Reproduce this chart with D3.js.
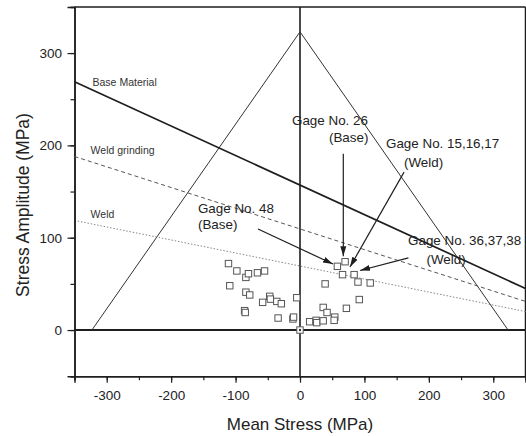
<!DOCTYPE html>
<html><head><meta charset="utf-8">
<script src="https://cdn.jsdelivr.net/npm/d3@7"></script>
<style>body{margin:0;background:#fff}</style>
</head><body>
<svg id="c" width="526" height="436"></svg>
<script>
// ---- data ----
const xMajorTicks = [-300, -200, -100, 0, 100, 200, 300];
const yMajorTicks = [0, 100, 200, 300];
const meanStress = [-111, -98, -84, -80, -66, -55, -109, -84, -78, -86, -85, -58, -47, -46, -36, -29, -5, -34, -11, -10, 15, 25, 26, 36, 54, 53, 36, 42, 72, 39, 58, 70, 66, 84, 90, 109, 92, 0];
const stressAmplitude = [72, 64, 57, 61, 62, 64, 48, 41, 38, 21, 19, 30, 36.5, 33.5, 31, 28.5, 35, 13, 12, 14, 9, 10.5, 8, 10, 14, 10.5, 24.5, 19, 23.5, 50, 69, 74, 60, 60, 52, 51, 33, 0];
const triangleX = [-323, 0, 323];
const triangleY = [0, 323, 0];
const baseMaterialX = [-350, 350];
const baseMaterialY = [269, 45];
const weldGrindingX = [-350, 350];
const weldGrindingY = [188, 31];
const weldX = [-345, 350];
const weldY = [118, 20];
const lineLabels = ["Base Material", "Weld grinding", "Weld"];
const lineLabelX = [-322, -325, -325];
const lineLabelY = [264.5, 190.5, 121.5];
const noteText = ["Gage No. 26", "(Base)", "Gage No. 15,16,17", "(Weld)", "Gage No. 48", "(Base)", "Gage No. 36,37,38", "(Weld)"];
const noteX = [-12.4, 75.6, 133.5, 191.8, -158.4, -158.4, 167.7, 226.7];
const noteY = [222.6, 203.7, 197.7, 176.6, 127.3, 108.9, 92.1, 71.5];
const noteAnchor = ["start", "middle", "start", "middle", "start", "start", "start", "middle"];
const arrowFromX = [67.2, 161.5, -65.2, 168.3];
const arrowFromY = [191, 171, 109.4, 78.2];
const arrowToX = [67.2, 77.6, 51.2, 93.2];
const arrowToY = [80, 68.3, 71.5, 64.5];

// ---- chart ----
const svg = d3.select("#c");
const FONT = "'Liberation Sans', Arial, Helvetica, sans-serif";
const x = d3.scaleLinear().domain([-350, 350]).range([74.5, 525.5]);
const y = d3.scaleLinear().domain([-50, 350]).range([376.2, 6.9]);
const ink = "#1e1e1e";

svg.append("defs").append("marker")
  .attr("id", "ah").attr("markerUnits", "userSpaceOnUse")
  .attr("markerWidth", 12).attr("markerHeight", 10)
  .attr("viewBox", "0 -5 12 10").attr("refX", 10).attr("refY", 0)
  .attr("orient", "auto")
  .append("path").attr("d", "M0,-3L10,0L0,3Z").attr("fill", ink);

// frame (top and right)
svg.append("line").attr("x1", x(-350)).attr("x2", x(350)).attr("y1", y(350)).attr("y2", y(350))
  .attr("stroke", ink).attr("stroke-width", 1.5);
svg.append("line").attr("x1", x(350)).attr("x2", x(350)).attr("y1", y(350)).attr("y2", y(-50))
  .attr("stroke", ink).attr("stroke-width", 1.5);

// axes
function styleAxis(g) {
  g.selectAll("path.domain").attr("stroke", ink).attr("stroke-width", 1.5);
  g.selectAll(".tick line").attr("stroke", ink).attr("stroke-width", 1.2);
  g.selectAll("text").attr("fill", "#222").style("font-family", FONT).style("font-size", "13.5px");
}
const xMinor = svg.append("g").attr("transform", `translate(0,${y(-50)})`)
  .call(d3.axisBottom(x).tickValues(d3.range(-350, 351, 50)).tickSize(4).tickFormat(""));
styleAxis(xMinor);
const xMajor = svg.append("g").attr("transform", `translate(0,${y(-50)})`)
  .call(d3.axisBottom(x).tickValues(xMajorTicks).tickSize(6.5).tickPadding(7.5).tickFormat(d => String(d)));
styleAxis(xMajor);
const yMinor = svg.append("g").attr("transform", `translate(${x(-350)},0)`)
  .call(d3.axisLeft(y).tickValues(d3.range(-50, 351, 50)).tickSize(4).tickFormat(""));
styleAxis(yMinor);
const yMajor = svg.append("g").attr("transform", `translate(${x(-350)},0)`)
  .call(d3.axisLeft(y).tickValues(yMajorTicks).tickSize(7).tickPadding(5.5).tickFormat(d => String(d)));
styleAxis(yMajor);

// zero lines
svg.append("line").attr("x1", x(-350)).attr("x2", x(350)).attr("y1", y(0)).attr("y2", y(0))
  .attr("stroke", ink).attr("stroke-width", 2);
svg.append("line").attr("x1", x(0)).attr("x2", x(0)).attr("y1", y(350)).attr("y2", y(-50))
  .attr("stroke", ink).attr("stroke-width", 1.6);

const line = d3.line().x(d => x(d[0])).y(d => y(d[1]));
// triangle
svg.append("path").attr("d", line(d3.zip(triangleX, triangleY)))
  .attr("fill", "none").attr("stroke", "#333").attr("stroke-width", 1);
// fatigue lines
svg.append("path").attr("d", line(d3.zip(baseMaterialX, baseMaterialY)))
  .attr("fill", "none").attr("stroke", ink).attr("stroke-width", 1.7);
svg.append("path").attr("d", line(d3.zip(weldGrindingX, weldGrindingY)))
  .attr("fill", "none").attr("stroke", "#555").attr("stroke-width", 1).attr("stroke-dasharray", "4,3");
svg.append("path").attr("d", line(d3.zip(weldX, weldY)))
  .attr("fill", "none").attr("stroke", "#888").attr("stroke-width", 1).attr("stroke-dasharray", "1.5,1.8");

// line labels
svg.selectAll("text.ll").data(lineLabels).join("text").attr("class", "ll")
  .attr("x", (d, i) => x(lineLabelX[i])).attr("y", (d, i) => y(lineLabelY[i]))
  .attr("fill", "#333").style("font-family", FONT).style("font-size", "10.5px").text(d => d);

// markers
const pts = d3.zip(meanStress, stressAmplitude);
svg.selectAll("rect.pt").data(pts).join("rect").attr("class", "pt")
  .attr("x", d => x(d[0]) - 3.2).attr("y", d => y(d[1]) - 3.2)
  .attr("width", 6.4).attr("height", 6.4)
  .attr("fill", "#fff").attr("stroke", "#555").attr("stroke-width", 1);
svg.selectAll("circle.pt").data(pts.filter(d => d[0] === 0 && d[1] === 0)).join("circle").attr("class", "pt")
  .attr("cx", d => x(d[0])).attr("cy", d => y(d[1])).attr("r", 1.2).attr("fill", "#333");

// arrows
svg.selectAll("line.ar").data(arrowFromX).join("line").attr("class", "ar")
  .attr("x1", (d, i) => x(arrowFromX[i])).attr("y1", (d, i) => y(arrowFromY[i]))
  .attr("x2", (d, i) => x(arrowToX[i])).attr("y2", (d, i) => y(arrowToY[i]))
  .attr("stroke", ink).attr("stroke-width", 1.2).attr("marker-end", "url(#ah)");

// annotation text
svg.selectAll("text.nt").data(noteText).join("text").attr("class", "nt")
  .attr("x", (d, i) => x(noteX[i])).attr("y", (d, i) => y(noteY[i]))
  .attr("text-anchor", (d, i) => noteAnchor[i])
  .attr("fill", "#222").style("font-family", FONT).style("font-size", "13.4px").text(d => d);

// axis titles
svg.append("text").attr("x", x(0)).attr("y", 430).attr("text-anchor", "middle")
  .attr("fill", "#222").style("font-family", FONT).style("font-size", "17px").text("Mean Stress (MPa)");
svg.append("text").attr("transform", `translate(28.5,${205}) rotate(-90)`).attr("text-anchor", "middle")
  .attr("fill", "#222").style("font-family", FONT).style("font-size", "17.5px").text("Stress Amplitude (MPa)");
</script>
</body></html>
